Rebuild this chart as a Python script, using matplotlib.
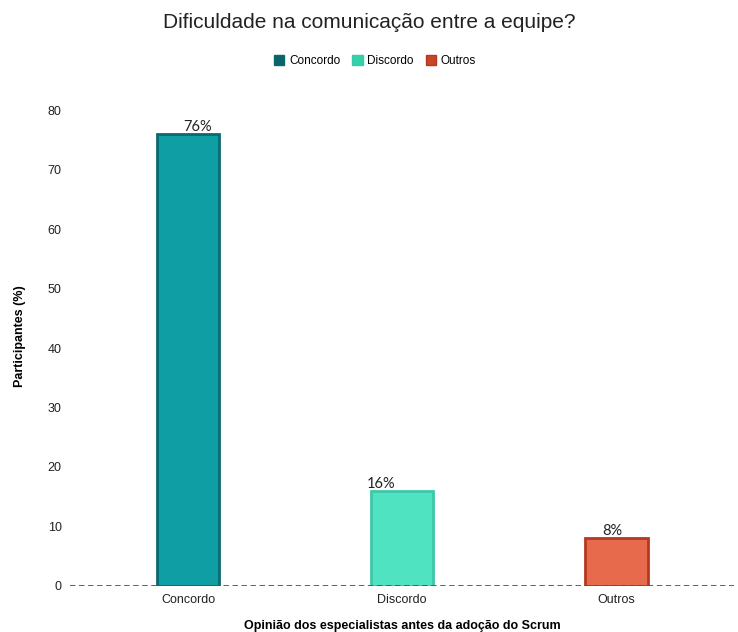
import matplotlib.pyplot as plt
from matplotlib.patches import Patch

categories = ['Concordo', 'Discordo', 'Outros']
values = [76, 16, 8]
labels = ['76%', '16%', '8%']
fill_colors = ['#0f9ea3', '#50e3c2', '#e86a4d']
edge_colors = ['#0a6a70', '#3cc9a9', '#b5391f']
legend_colors = ['#0b6469', '#34d1ab', '#c8442a']

plt.rcParams['font.family'] = ['Liberation Sans', 'DejaVu Sans']

fig = plt.figure(figsize=(7.38, 6.32), dpi=100)
ax = fig.add_axes([0.095, 0.073, 0.9, 0.79])

x = range(len(categories))
ax.bar(x, values, width=0.29, color=fill_colors, edgecolor=edge_colors, linewidth=2, zorder=2)
ax.axhline(0, color='#555555', linestyle=(0, (3, 2)), linewidth=1.3, zorder=3)

# value labels (small horizontal nudges like the original)
nudges = [7, -15, -3]
for i, (v, lab) in enumerate(zip(values, labels)):
    ax.annotate(lab, (i, v), xytext=(nudges[i], 0), textcoords='offset points',
                ha='center', va='bottom', fontsize=10.5, color='#222222',
                family=['Lato', 'DejaVu Sans'])

ax.set_xlim(-0.55, 2.55)
ax.set_ylim(0, 84)
ax.set_yticks([0, 10, 20, 30, 40, 50, 60, 70, 80])
ax.set_xticks(list(x))
ax.set_xticklabels(categories)
ax.tick_params(axis='both', length=0, labelsize=9, colors='#222222', pad=6)
for s in ax.spines.values():
    s.set_visible(False)

ax.set_ylabel('Participantes (%)', fontsize=9, fontweight='bold', labelpad=16)
ax.set_xlabel('Opinião dos especialistas antes da adoção do Scrum', fontsize=9,
              fontweight='bold', labelpad=10)

fig.text(0.5, 0.965, 'Dificuldade na comunicação entre a equipe?', ha='center', va='center',
         fontsize=15, color='#222222')

handles = [Patch(facecolor=c, edgecolor=e, linewidth=1) for c, e in zip(legend_colors, edge_colors)]
fig.legend(handles, categories, loc='center', bbox_to_anchor=(0.508, 0.903), ncol=3,
           frameon=False, fontsize=8.5, handlelength=0.9, handleheight=0.9,
           handletextpad=0.4, columnspacing=1.0)

fig.savefig('out.png', dpi=100)
